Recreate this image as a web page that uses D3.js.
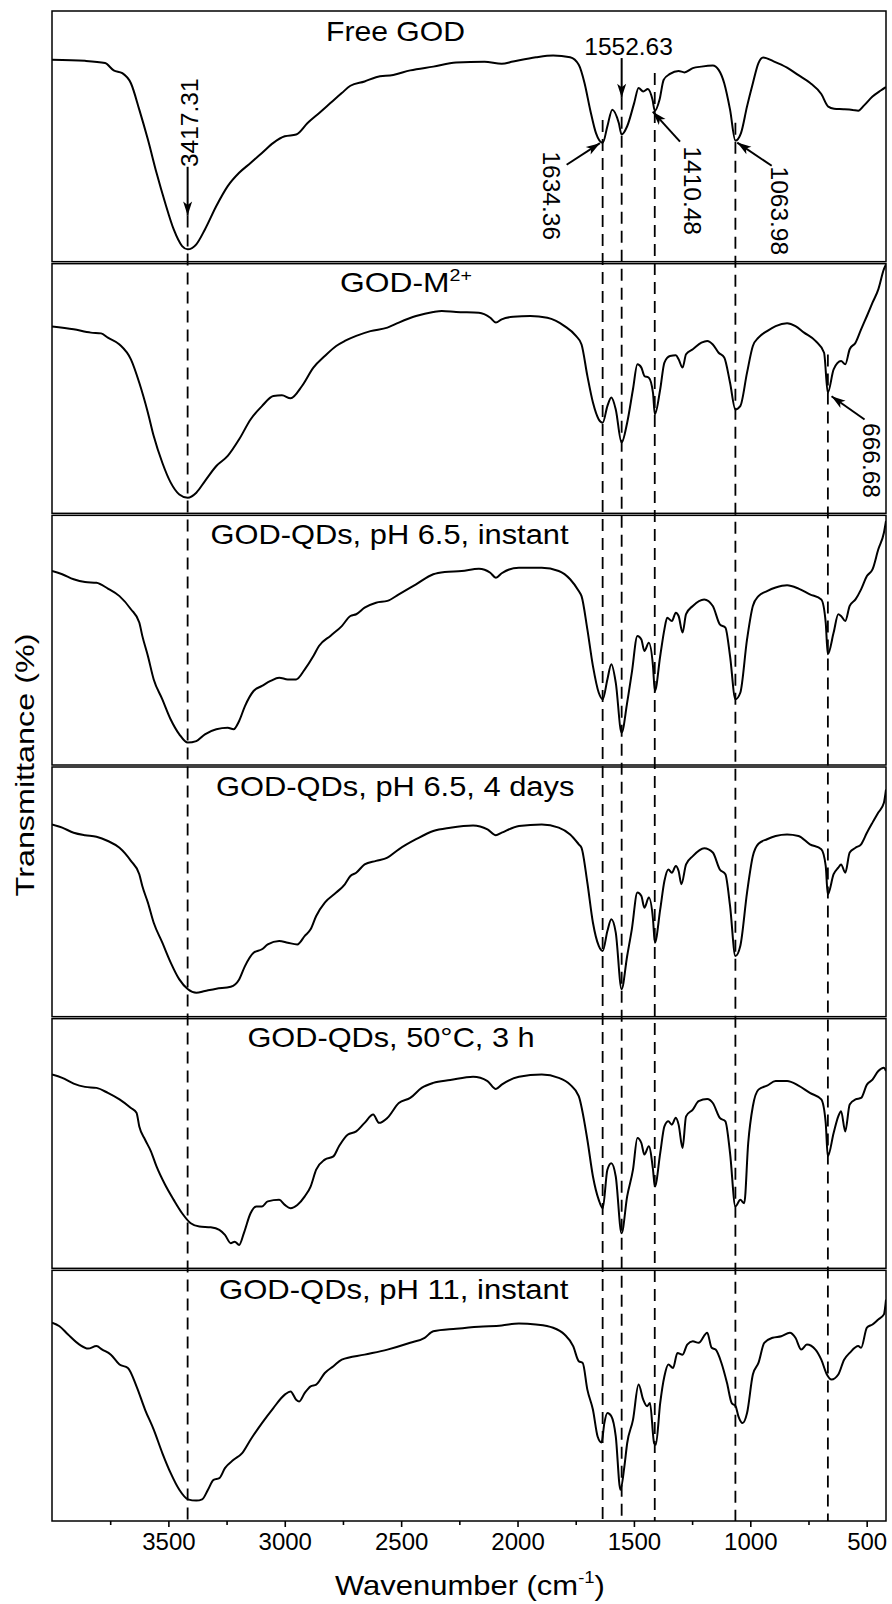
<!DOCTYPE html>
<html><head><meta charset="utf-8">
<script src="https://cdn.jsdelivr.net/npm/d3@7"></script>
<style>html,body{margin:0;padding:0;background:#fff;}svg{display:block;}</style>
</head><body><svg id="c" width="892" height="1604"></svg>
<script>
// ---- data (wavenumber cm-1, relative transmittance 0-100 within each panel) ----
const freeGOD = [[4000,80.6],[3858,80.2],[3772,79.3],[3735,76.4],[3698,75.3],[3661,71.3],[3625,60.8],[3588,48.9],[3551,35.7],[3514,23.8],[3477,13.2],[3441,6.6],[3417,5.3],[3380,7.3],[3343,13.2],[3294,22.5],[3245,30.4],[3196,35.7],[3147,39.6],[3098,43.6],[3049,47.6],[3000,50.2],[2951,50.9],[2902,55.5],[2853,59.4],[2804,63.4],[2755,67.4],[2718,70.3],[2657,72.0],[2608,73.7],[2534,74.6],[2461,76.4],[2362,77.9],[2264,79.5],[2142,79.8],[2068,79.0],[2019,79.9],[1921,81.6],[1847,82.3],[1774,81.6],[1737,78.6],[1712,71.3],[1688,60.8],[1663,51.5],[1634,47.6],[1614,54.2],[1593,60.8],[1565,55.5],[1553,50.9],[1529,54.2],[1499,63.4],[1480,69.4],[1460,68.0],[1440,69.0],[1420,64.7],[1410,60.3],[1390,64.7],[1372,72.7],[1345,75.0],[1308,76.2],[1283,75.6],[1247,77.3],[1210,77.9],[1161,78.3],[1136,76.6],[1112,71.3],[1087,60.8],[1064,48.5],[1040,51.5],[1014,62.1],[989,71.3],[965,79.3],[945,81.5],[900,80.0],[842,77.5],[793,74.5],[744,71.5],[695,67.0],[665,62.0],[640,61.2],[600,61.0],[560,60.7],[536,60.4],[511,62.5],[475,66.0],[438,68.5],[417,69.8]];
const godM = [[4000,74.6],[3907,73.5],[3833,72.2],[3789,71.9],[3760,70.2],[3710,67.5],[3661,61.6],[3625,52.3],[3588,40.4],[3563,31.1],[3526,20.5],[3490,12.6],[3453,7.9],[3417,6.6],[3380,8.6],[3343,13.2],[3294,19.2],[3245,23.2],[3196,29.8],[3147,37.7],[3098,43.0],[3049,47.0],[3012,47.3],[2975,46.1],[2926,51.0],[2877,58.3],[2828,62.9],[2779,66.9],[2742,68.9],[2693,70.9],[2632,72.8],[2559,74.2],[2510,76.2],[2436,78.8],[2362,80.4],[2325,80.8],[2264,80.4],[2166,80.1],[2117,78.1],[2093,76.2],[2068,77.5],[2019,78.5],[1945,78.8],[1872,78.1],[1798,74.8],[1749,70.9],[1725,67.5],[1700,55.0],[1676,44.4],[1651,37.7],[1634,36.4],[1614,43.0],[1597,46.4],[1578,41.7],[1553,28.5],[1529,36.4],[1504,49.7],[1485,59.6],[1468,58.3],[1455,55.0],[1436,54.3],[1418,48.3],[1410,39.7],[1387,49.7],[1369,60.3],[1345,62.9],[1320,63.2],[1308,61.6],[1291,58.3],[1276,63.6],[1247,65.6],[1210,68.2],[1185,68.9],[1161,67.5],[1136,64.2],[1112,62.3],[1087,52.3],[1064,41.7],[1043,43.0],[1014,56.3],[989,66.9],[965,70.2],[928,72.8],[891,74.8],[842,75.9],[806,74.8],[769,72.2],[720,68.9],[683,64.2],[667,48.3],[642,57.6],[610,60.9],[592,59.6],[573,65.6],[548,68.2],[524,73.5],[499,78.8],[475,84.1],[450,89.4],[426,97.4],[417,99.3]];
const qdInstant = [[4000,77.5],[3956,76.2],[3907,74.2],[3858,73.1],[3809,72.8],[3760,70.5],[3710,67.5],[3661,62.3],[3625,57.0],[3612,51.7],[3588,43.7],[3563,34.4],[3526,26.5],[3490,18.5],[3453,12.6],[3417,9.3],[3380,9.9],[3343,12.6],[3294,14.6],[3245,15.2],[3220,14.6],[3196,17.9],[3171,23.8],[3134,29.8],[3098,31.8],[3061,33.8],[3024,35.1],[2987,34.4],[2951,34.4],[2914,38.4],[2877,43.7],[2853,47.7],[2804,51.7],[2755,55.6],[2718,59.6],[2693,60.3],[2657,62.9],[2608,64.9],[2559,65.6],[2510,68.2],[2436,72.2],[2362,76.2],[2313,77.1],[2240,77.5],[2166,78.4],[2117,76.8],[2093,74.8],[2068,76.6],[1994,78.8],[1896,78.8],[1823,77.5],[1774,74.2],[1737,69.5],[1725,67.5],[1700,54.3],[1676,39.7],[1651,29.1],[1634,26.5],[1614,34.4],[1597,40.4],[1578,33.1],[1553,13.2],[1529,25.2],[1509,37.1],[1485,51.7],[1468,50.3],[1455,45.7],[1436,49.0],[1418,39.7],[1410,29.8],[1387,43.7],[1369,54.3],[1357,58.9],[1337,57.6],[1320,60.9],[1308,59.6],[1291,53.0],[1276,60.3],[1247,63.6],[1198,66.2],[1161,63.6],[1131,56.3],[1107,55.0],[1087,43.7],[1064,26.5],[1043,29.1],[1014,50.3],[989,63.6],[965,67.5],[928,69.5],[891,70.9],[842,71.8],[793,70.5],[744,68.2],[695,66.2],[676,57.0],[667,44.4],[642,53.0],[622,60.3],[610,59.6],[592,57.6],[573,63.6],[548,66.2],[524,70.2],[499,75.5],[475,78.1],[450,86.1],[426,92.7],[417,97.4]];
const qdDays = [[4000,76.8],[3956,75.5],[3907,73.5],[3858,72.5],[3809,71.9],[3760,70.2],[3710,67.5],[3661,62.3],[3625,57.0],[3612,52.3],[3588,45.7],[3563,37.7],[3526,29.8],[3490,21.9],[3453,15.2],[3416,11.3],[3380,9.9],[3343,10.6],[3294,11.5],[3232,12.3],[3196,15.2],[3171,20.5],[3134,25.8],[3098,27.2],[3073,29.1],[3024,30.5],[2987,29.8],[2946,29.1],[2914,32.5],[2889,35.1],[2865,40.4],[2828,45.7],[2779,49.7],[2742,53.0],[2718,56.3],[2693,57.6],[2657,60.9],[2608,62.3],[2559,63.6],[2510,66.9],[2436,70.9],[2362,74.2],[2289,75.5],[2191,76.4],[2129,74.8],[2093,72.5],[2068,73.5],[1994,76.2],[1896,76.8],[1823,75.5],[1774,72.8],[1737,68.9],[1725,67.5],[1700,53.6],[1676,37.7],[1651,28.5],[1634,26.5],[1614,34.4],[1597,39.1],[1578,33.8],[1553,11.3],[1529,24.5],[1509,35.1],[1485,49.7],[1468,48.3],[1455,43.7],[1436,47.7],[1418,39.1],[1410,29.8],[1387,43.0],[1369,54.3],[1352,58.9],[1337,57.6],[1320,60.3],[1308,58.3],[1296,53.0],[1276,60.9],[1247,64.2],[1198,67.3],[1161,65.6],[1131,58.9],[1107,57.0],[1087,44.4],[1064,24.5],[1043,28.5],[1014,49.7],[989,64.2],[965,69.1],[928,70.9],[891,72.2],[842,72.8],[793,72.2],[744,68.9],[695,66.9],[676,60.3],[667,49.0],[642,57.0],[622,59.6],[610,60.9],[592,57.6],[573,65.6],[548,67.5],[524,68.9],[499,73.5],[475,77.5],[450,81.5],[426,85.4],[417,90.7]];
const qd50C = [[4000,77.4],[3956,76.1],[3907,73.8],[3858,72.5],[3809,72.1],[3760,70.1],[3710,67.5],[3661,64.1],[3637,62.2],[3625,56.8],[3600,51.5],[3575,46.9],[3551,40.9],[3514,33.6],[3477,27.6],[3441,22.3],[3404,18.3],[3367,17.0],[3318,16.7],[3281,15.7],[3257,13.7],[3232,10.4],[3215,11.0],[3196,9.7],[3176,14.3],[3147,22.3],[3122,25.0],[3098,25.0],[3073,27.0],[3024,27.6],[3000,25.6],[2975,24.3],[2946,25.6],[2914,29.0],[2889,32.9],[2865,39.6],[2828,43.6],[2791,44.9],[2767,48.9],[2730,53.5],[2693,54.8],[2657,58.2],[2620,61.5],[2595,58.2],[2559,60.2],[2510,66.1],[2461,68.1],[2412,72.1],[2362,74.1],[2289,75.2],[2191,76.5],[2129,74.8],[2093,71.7],[2068,73.4],[1994,76.5],[1896,77.4],[1823,76.1],[1774,73.4],[1737,68.8],[1700,51.5],[1676,36.9],[1651,27.6],[1634,24.3],[1614,39.6],[1597,42.2],[1578,36.9],[1553,14.3],[1529,29.0],[1504,39.6],[1485,52.2],[1468,50.2],[1455,45.6],[1436,48.9],[1418,39.6],[1410,32.9],[1387,46.2],[1369,56.8],[1352,58.8],[1337,57.5],[1320,60.2],[1308,57.5],[1291,48.2],[1276,60.8],[1247,63.5],[1222,66.8],[1185,67.7],[1161,66.1],[1131,60.2],[1107,58.8],[1087,46.2],[1064,25.0],[1043,27.6],[1026,26.3],[1009,50.2],[989,64.8],[965,71.4],[928,73.0],[891,74.8],[842,74.8],[793,73.0],[744,70.1],[695,67.5],[676,58.2],[667,44.9],[642,54.2],[622,60.8],[610,62.8],[592,54.8],[573,65.5],[548,67.5],[524,68.1],[499,73.4],[475,75.4],[450,78.8],[426,80.1],[417,78.8]];
const qdPH11 = [[4000,78.8],[3968,77.4],[3931,74.1],[3882,70.1],[3845,68.5],[3809,69.5],[3784,68.1],[3747,66.1],[3710,62.2],[3674,60.8],[3637,53.5],[3600,44.2],[3563,36.3],[3526,27.0],[3490,19.0],[3453,12.4],[3416,8.6],[3380,8.1],[3355,8.6],[3330,12.4],[3306,16.3],[3281,17.0],[3257,21.0],[3220,24.3],[3183,27.0],[3147,32.3],[3098,38.9],[3049,44.9],[3000,50.2],[2975,51.5],[2951,48.2],[2938,47.5],[2914,50.9],[2889,53.5],[2865,54.2],[2828,58.8],[2791,61.5],[2755,64.1],[2657,66.1],[2559,68.1],[2461,70.8],[2399,72.8],[2362,75.4],[2264,76.4],[2166,77.2],[2068,77.7],[1994,78.5],[1921,78.1],[1847,76.8],[1798,74.1],[1761,69.5],[1737,63.5],[1720,62.8],[1700,52.2],[1676,44.2],[1656,33.6],[1639,31.2],[1627,38.9],[1614,42.9],[1597,41.6],[1578,33.6],[1558,12.4],[1541,21.6],[1529,30.9],[1504,40.2],[1480,54.2],[1460,48.2],[1443,45.6],[1431,46.9],[1413,30.9],[1406,30.3],[1387,46.9],[1369,57.5],[1352,62.2],[1332,60.8],[1313,66.8],[1291,66.1],[1271,70.1],[1247,71.4],[1222,70.8],[1185,74.8],[1166,68.8],[1149,68.1],[1124,62.8],[1100,54.8],[1080,46.9],[1063,45.6],[1051,41.6],[1033,38.9],[1014,42.9],[989,58.2],[965,62.8],[940,70.8],[904,72.8],[867,73.4],[830,74.8],[806,72.8],[781,68.1],[757,70.1],[720,68.1],[695,64.1],[671,58.2],[651,56.2],[622,58.2],[597,64.1],[573,66.8],[536,69.5],[524,68.8],[499,76.8],[475,78.1],[450,80.1],[426,82.1],[417,88.0]];

const panelTitles = ["Free GOD", "GOD-M", "GOD-QDs, pH 6.5, instant", "GOD-QDs, pH 6.5, 4 days", "GOD-QDs, 50\u00B0C, 3 h", "GOD-QDs, pH 11, instant"];
const titleSup = ["", "2+", "", "", "", ""];
const majorTicks = [3500, 3000, 2500, 2000, 1500, 1000, 500];
const minorTicks = [3750, 3250, 2750, 2250, 1750, 1250, 750];
// dashed reference lines: wavenumber, panel where it starts, value where it starts
const peakLines = [3417.31, 1634.36, 1552.63, 1410.48, 1063.98, 666.68];
const peakLineStartPanel = [0, 0, 0, 0, 0, 1];
const peakLineStartVal = [18.7, 56.7, 65.5, 75.4, 55.6, 63.5];
// peak labels: text, centre wavenumber, panel, centre value, rotation
const peakLabelText = ["3417.31", "1552.63", "1634.36", "1410.48", "1063.98", "666.68"];
const peakLabelWn = [3411, 1523, 1853, 1246, 874.5, 477];
const peakLabelPanel = [0, 0, 0, 0, 0, 1];
const peakLabelVal = [55.6, 86.1, 26.6, 28.6, 20.6, 21.4];
const peakLabelRot = [-90, 0, 90, 90, 90, 90];
// arrows: panel, from [wn, val], to [wn, val]
const arrowPanel = [0, 0, 0, 0, 0, 1];
const arrowFrom = [[3417.31, 38.1], [1552.63, 81.3], [1789, 38.9], [1302, 48.1], [908, 38.5], [509, 37.7]];
const arrowTo = [[3417.31, 18.7], [1552.63, 65.5], [1646, 47.5], [1419, 60.0], [1056, 47.7], [651, 46.9]];

const series = [freeGOD, godM, qdInstant, qdDays, qd50C, qdPH11];

(function () {
// ---- layout ----
const FONT = '"Liberation Sans", Arial, Helvetica, sans-serif';
const pLeft = 52, pRight = 886, pTop = 11, pBottom = 1521;
const ph = (pBottom - pTop) / 6;
const svg = d3.select("#c").attr("font-family", FONT);
const x = d3.scaleLinear().domain([4000, 417]).range([pLeft, pRight]);
const ys = series.map((s, i) => d3.scaleLinear().domain([0, 100]).range([pTop + (i + 1) * ph, pTop + i * ph]));

const defs = svg.append("defs");
defs.append("marker").attr("id", "ah").attr("markerUnits", "userSpaceOnUse")
  .attr("viewBox", "-15 -6 16 12").attr("markerWidth", 16).attr("markerHeight", 12)
  .attr("refX", 0).attr("refY", 0).attr("orient", "auto")
  .append("path").attr("d", "M0,0L-14,-4.5L-10.5,0L-14,4.5Z").attr("fill", "#000");
series.forEach((s, i) => {
  defs.append("clipPath").attr("id", "clip" + i).append("rect")
    .attr("x", pLeft).attr("y", pTop + i * ph).attr("width", pRight - pLeft).attr("height", ph);
});

// curves
const line = d3.line().curve(d3.curveMonotoneX);
series.forEach((s, i) => {
  svg.append("path")
    .attr("d", line.x(d => x(d[0])).y(d => ys[i](d[1]))(s))
    .attr("fill", "none").attr("stroke", "#000").attr("stroke-width", 2)
    .attr("stroke-linejoin", "round").attr("clip-path", `url(#clip${i})`);
});

// dashed lines
peakLines.forEach((w, k) => {
  svg.append("line")
    .attr("x1", x(w)).attr("x2", x(w))
    .attr("y1", ys[peakLineStartPanel[k]](peakLineStartVal[k])).attr("y2", pBottom)
    .attr("stroke", "#000").attr("stroke-width", 1.8).attr("stroke-dasharray", "12,7");
});

// panel frames
series.forEach((s, i) => {
  const g0 = i > 0 ? 1 : 0, g1 = i < 5 ? 1 : 0;
  svg.append("rect")
    .attr("x", pLeft).attr("y", pTop + i * ph + g0)
    .attr("width", pRight - pLeft).attr("height", ph - g0 - g1)
    .attr("fill", "none").attr("stroke", "#000").attr("stroke-width", 1.5);
});

// panel titles (measured extents)
const titleLeft = [326, 340, 210.5, 216, 247.4, 219];
const titleWidth = [139, 132, 358.5, 358.5, 287.3, 350];
panelTitles.forEach((t, i) => {
  const g = svg.append("g");
  const txt = g.append("text").attr("x", 0).attr("y", 0).attr("font-size", 27.5).attr("fill", "#000").text(t);
  if (titleSup[i]) txt.append("tspan").attr("font-size", 17).attr("dy", -11).text(titleSup[i]);
  const w = txt.node().getBBox().width;
  g.attr("transform", `translate(${titleLeft[i]},${pTop + i * ph + 29.5}) scale(${titleWidth[i] / w},1)`);
});

// x axis
const gx = svg.append("g").attr("transform", `translate(0,${pBottom})`)
  .call(d3.axisBottom(x).tickValues(majorTicks).tickSize(6).tickPadding(6).tickFormat(d3.format("d")));
gx.select(".domain").remove();
gx.selectAll("line").attr("stroke", "#000").attr("stroke-width", 1.6);
gx.selectAll("text").attr("font-size", 24).attr("font-family", FONT).attr("fill", "#000");
const gm = svg.append("g").attr("transform", `translate(0,${pBottom})`)
  .call(d3.axisBottom(x).tickValues(minorTicks).tickSize(4).tickFormat(""));
gm.select(".domain").remove();
gm.selectAll("line").attr("stroke", "#000").attr("stroke-width", 1.6);

// axis titles
{
  const g = svg.append("g");
  const t = g.append("text").attr("font-size", 28.5).attr("fill", "#000").text("Wavenumber (cm");
  t.append("tspan").attr("font-size", 17).attr("dy", -12).text("-1");
  t.append("tspan").attr("dy", 12).text(")");
  const w = t.node().getBBox().width;
  g.attr("transform", `translate(335,1595) scale(${270 / w},1)`);
}
{
  const g = svg.append("g").attr("transform", "translate(33.5,765) rotate(-90)");
  const t = g.append("text").attr("font-size", 26.5).attr("fill", "#000").attr("text-anchor", "middle").text("Transmittance (%)");
  const w = t.node().getBBox().width;
  t.attr("transform", `scale(${263 / w},1)`);
}

// peak labels
peakLabelText.forEach((t, k) => {
  svg.append("g")
    .attr("transform", `translate(${x(peakLabelWn[k])},${ys[peakLabelPanel[k]](peakLabelVal[k])}) rotate(${peakLabelRot[k]})`)
    .append("text").attr("text-anchor", "middle").attr("dy", "0.36em")
    .attr("font-size", 24.5).attr("fill", "#000").text(t);
});

// arrows
arrowFrom.forEach((f, k) => {
  const yk = ys[arrowPanel[k]];
  svg.append("line")
    .attr("x1", x(f[0])).attr("y1", yk(f[1]))
    .attr("x2", x(arrowTo[k][0])).attr("y2", yk(arrowTo[k][1]))
    .attr("stroke", "#000").attr("stroke-width", 2).attr("marker-end", "url(#ah)");
});
})();
</script></body></html>
